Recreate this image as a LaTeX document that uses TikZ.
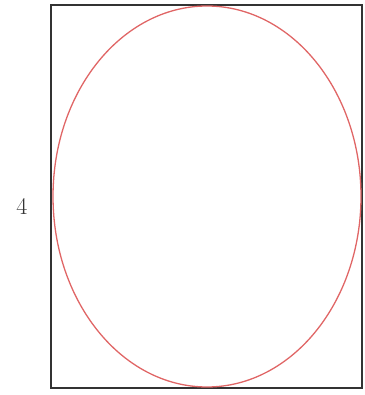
\documentclass[tikz,border=0pt]{standalone}
\usepackage{tikz}
\usetikzlibrary{positioning,shapes.geometric}

\begin{document}
\begin{tikzpicture}[
  x=1pt, y=1pt,
  frame/.style={draw=black!80, line width=1.3pt, inner sep=0pt, minimum width=311pt, minimum height=383pt},
  oval/.style={ellipse, draw=red!80!black!60, line width=1.3pt, inner sep=0pt, minimum width=308pt, minimum height=381pt},
  lab/.style={font=\fontsize{24}{28}\selectfont, text=black!80}
]
\useasboundingbox (0,0) rectangle (364,395);
\node[frame] (box) at (206.5,198.5) {};
\node[oval] (shape) at (207,198.5) {};
\node[lab] (num) at (22,189) {4};
\end{tikzpicture}
\end{document}
